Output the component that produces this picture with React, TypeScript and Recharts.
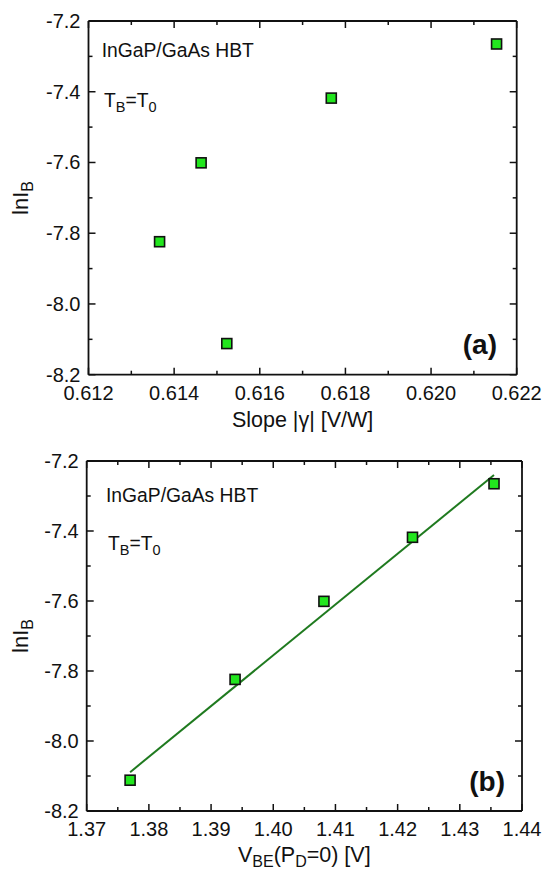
import React from 'react'
import { ScatterChart, Scatter, XAxis, YAxis } from 'recharts'

// ln(I_B) measured at five bias points (ordered by V_BE)
const lnIB = [-8.112, -7.824, -7.601, -7.418, -7.265]
const slopeGamma = [0.61523, 0.61366, 0.61463, 0.61767, 0.62153]
const vbe = [1.37698, 1.39386, 1.40815, 1.42239, 1.4355]

// linear fit drawn in panel (b)
const fitVbe = [1.37698, 1.4355]
const fitLnIB = [-8.089, -7.24]

const yTicks = [-8.2, -8.1, -8.0, -7.9, -7.8, -7.7, -7.6, -7.5, -7.4, -7.3, -7.2]
const yMajor = [-8.2, -8.0, -7.8, -7.6, -7.4, -7.2]
const xTicksA = [0.612, 0.613, 0.614, 0.615, 0.616, 0.617, 0.618, 0.619, 0.62, 0.621, 0.622]
const xMajorA = [0.612, 0.614, 0.616, 0.618, 0.62, 0.622]
const xTicksB = [1.37, 1.375, 1.38, 1.385, 1.39, 1.395, 1.4, 1.405, 1.41, 1.415, 1.42, 1.425, 1.43, 1.435, 1.44]
const xMajorB = [1.37, 1.38, 1.39, 1.4, 1.41, 1.42, 1.43, 1.44]

const FONT = '"Liberation Sans", Arial, sans-serif'
const INK = '#111'
const MARKER_FILL = '#22e61e'
const FIT_COLOR = '#1f7a1f'

const isMajor = (v: number, majors: number[]) => majors.some((m) => Math.abs(m - v) < 1e-9)

const dataA = slopeGamma.map((x, i) => ({ x, y: lnIB[i] }))
const dataB = vbe.map((x, i) => ({ x, y: lnIB[i] }))
const fitData = fitVbe.map((x, i) => ({ x, y: fitLnIB[i] }))

function Square(props: any) {
  const { cx, cy } = props
  if (cx == null || cy == null) return <g />
  return <rect x={cx - 5} y={cy - 5} width={10} height={10} fill={MARKER_FILL} stroke={INK} strokeWidth={1.6} />
}

const NoShape = () => <g />

function makeTick(side: 'bottom' | 'top' | 'left' | 'right', majors: number[], digits: number) {
  return (p: any) => {
    const { x, y, payload } = p
    const v = payload.value
    const major = isMajor(v, majors)
    const len = major ? 7 : 4
    if (side === 'bottom') {
      return (
        <g>
          <line x1={x} x2={x} y1={y} y2={y - len} stroke={INK} strokeWidth={1.5} />
          {major && (
            <text x={x} y={y + 25} textAnchor="middle" fontSize={20} fontFamily={FONT} fill={INK}>
              {v.toFixed(digits)}
            </text>
          )}
        </g>
      )
    }
    if (side === 'top') {
      return <line x1={x} x2={x} y1={y} y2={y + len} stroke={INK} strokeWidth={1.5} />
    }
    if (side === 'left') {
      return (
        <g>
          <line x1={x} x2={x + len} y1={y} y2={y} stroke={INK} strokeWidth={1.5} />
          {major && (
            <text x={x - 8} y={y + 7} textAnchor="end" fontSize={20} fontFamily={FONT} fill={INK}>
              {v.toFixed(digits)}
            </text>
          )}
        </g>
      )
    }
    return <line x1={x} x2={x - len} y1={y} y2={y} stroke={INK} strokeWidth={1.5} />
  }
}

const axisLine = { stroke: INK, strokeWidth: 1.8 }

function Panel(props: {
  height: number
  left: number
  right: number
  bottom: number
  xDomain: [number, number]
  xTicks: number[]
  xMajor: number[]
  xDigits: number
  frameData: { x: number; y: number }[]
  children: React.ReactNode
}) {
  const { height, left, right, bottom, xDomain, xTicks, xMajor, xDigits, frameData, children } = props
  return (
    <ScatterChart width={550} height={height} margin={{ top: 20, right: right - 1, bottom: 0, left: 0 }}>
      <XAxis
        xAxisId="b"
        type="number"
        dataKey="x"
        domain={xDomain}
        ticks={xTicks}
        interval={0}
        allowDataOverflow
        height={bottom}
        tickSize={0}
        tickMargin={0}
        tickLine={false}
        axisLine={axisLine}
        tick={makeTick('bottom', xMajor, xDigits)}
      />
      <XAxis
        xAxisId="t"
        orientation="top"
        type="number"
        dataKey="x"
        domain={xDomain}
        ticks={xTicks}
        interval={0}
        allowDataOverflow
        height={1}
        tickSize={0}
        tickMargin={0}
        tickLine={false}
        axisLine={axisLine}
        tick={makeTick('top', xMajor, xDigits)}
      />
      <YAxis
        yAxisId="l"
        type="number"
        dataKey="y"
        domain={[-8.2, -7.2]}
        ticks={yTicks}
        interval={0}
        allowDataOverflow
        width={left}
        tickSize={0}
        tickMargin={0}
        tickLine={false}
        axisLine={axisLine}
        tick={makeTick('left', yMajor, 1)}
      />
      <YAxis
        yAxisId="r"
        orientation="right"
        type="number"
        dataKey="y"
        domain={[-8.2, -7.2]}
        ticks={yTicks}
        interval={0}
        allowDataOverflow
        width={1}
        tickSize={0}
        tickMargin={0}
        tickLine={false}
        axisLine={axisLine}
        tick={makeTick('right', yMajor, 1)}
      />
      {/* invisible series so the mirrored frame axes get drawn */}
      <Scatter data={frameData} xAxisId="t" yAxisId="r" shape={NoShape} isAnimationActive={false} />
      {children}
    </ScatterChart>
  )
}

const textStyle = { fontFamily: FONT, fill: INK }

export default function App() {
  return (
    <div style={{ position: 'absolute', left: 0, top: 0, width: 550, height: 881, background: '#fff' }}>
      {/* panel (a) */}
      <div style={{ position: 'relative', width: 550, height: 440 }}>
        <Panel height={440} left={88.5} right={33.3} bottom={65.3} xDomain={[0.612, 0.622]} xTicks={xTicksA} xMajor={xMajorA} xDigits={3} frameData={dataA}>
          <Scatter data={dataA} xAxisId="b" yAxisId="l" shape={Square} isAnimationActive={false} />
        </Panel>
        <svg width={550} height={440} style={{ position: 'absolute', left: 0, top: 0, pointerEvents: 'none' }}>
          <text x={101.7} y={57} fontSize={19.3} {...textStyle}>InGaP/GaAs HBT</text>
          <text x={104} y={107} fontSize={19.3} {...textStyle}>
            T<tspan dy={5} fontSize={14.5}>B</tspan>
            <tspan dy={-5}>=T</tspan>
            <tspan dy={5} fontSize={14.5}>0</tspan>
          </text>
          <text x={497} y={354} fontSize={28} fontWeight="bold" textAnchor="end" {...textStyle}>(a)</text>
          <text x={302.6} y={426.7} fontSize={21.5} textAnchor="middle" {...textStyle}>Slope |γ| [V/W]</text>
          <text x={28} y={198} fontSize={22} textAnchor="middle" transform="rotate(-90, 28, 198)" {...textStyle}>
            lnI<tspan dy={5} fontSize={16}>B</tspan>
          </text>
        </svg>
      </div>
      {/* panel (b) */}
      <div style={{ position: 'relative', width: 550, height: 441 }}>
        <Panel height={441} left={86.7} right={28} bottom={70} xDomain={[1.37, 1.44]} xTicks={xTicksB} xMajor={xMajorB} xDigits={2} frameData={dataB}>
          <Scatter
            data={fitData}
            xAxisId="b"
            yAxisId="l"
            line={{ stroke: FIT_COLOR, strokeWidth: 2 }}
            shape={NoShape}
            isAnimationActive={false}
          />
          <Scatter data={dataB} xAxisId="b" yAxisId="l" shape={Square} isAnimationActive={false} />
        </Panel>
        <svg width={550} height={441} style={{ position: 'absolute', left: 0, top: 0, pointerEvents: 'none' }}>
          <text x={106} y={61.7} fontSize={19.3} {...textStyle}>InGaP/GaAs HBT</text>
          <text x={108} y={110} fontSize={19.3} {...textStyle}>
            T<tspan dy={5} fontSize={14.5}>B</tspan>
            <tspan dy={-5}>=T</tspan>
            <tspan dy={5} fontSize={14.5}>0</tspan>
          </text>
          <text x={505} y={351} fontSize={28} fontWeight="bold" textAnchor="end" {...textStyle}>(b)</text>
          <text x={304.3} y={422} fontSize={21.5} textAnchor="middle" {...textStyle}>
            V<tspan dy={5} fontSize={16}>BE</tspan>
            <tspan dy={-5}>(P</tspan>
            <tspan dy={5} fontSize={16}>D</tspan>
            <tspan dy={-5}>=0) [V]</tspan>
          </text>
          <text x={28} y={196} fontSize={22} textAnchor="middle" transform="rotate(-90, 28, 196)" {...textStyle}>
            lnI<tspan dy={5} fontSize={16}>B</tspan>
          </text>
        </svg>
      </div>
    </div>
  )
}
